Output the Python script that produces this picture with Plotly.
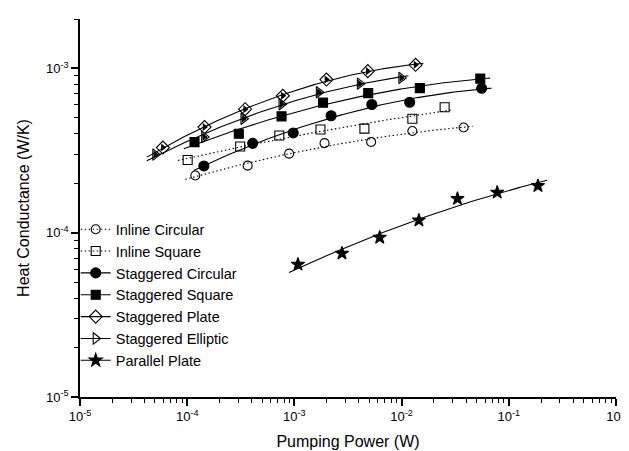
import numpy as np
import plotly.graph_objects as go

# ---- data ----
series_names = ["Inline Circular", "Inline Square", "Staggered Circular",
                "Staggered Square", "Staggered Plate", "Staggered Elliptic",
                "Parallel Plate"]

inline_circ_x = [1.19e-4, 3.66e-4, 8.93e-4, 1.91e-3, 5.20e-3, 1.26e-2, 3.79e-2]
inline_circ_y = [2.23e-4, 2.56e-4, 3.03e-4, 3.51e-4, 3.57e-4, 4.16e-4, 4.37e-4]

inline_sq_x = [1.01e-4, 3.12e-4, 7.23e-4, 1.75e-3, 4.50e-3, 1.26e-2, 2.52e-2]
inline_sq_y = [2.77e-4, 3.35e-4, 3.91e-4, 4.25e-4, 4.30e-4, 4.94e-4, 5.80e-4]

stag_circ_x = [1.43e-4, 4.08e-4, 9.75e-4, 2.20e-3, 5.27e-3, 1.19e-2, 5.58e-2]
stag_circ_y = [2.55e-4, 3.50e-4, 4.05e-4, 5.15e-4, 6.03e-4, 6.23e-4, 7.57e-4]

stag_sq_x = [1.17e-4, 3.03e-4, 7.59e-4, 1.85e-3, 4.88e-3, 1.48e-2, 5.42e-2]
stag_sq_y = [3.56e-4, 4.00e-4, 5.11e-4, 6.19e-4, 7.08e-4, 7.59e-4, 8.67e-4]

stag_plate_x = [5.93e-5, 1.45e-4, 3.47e-4, 7.80e-4, 1.99e-3, 4.84e-3, 1.35e-2]
stag_plate_y = [3.30e-4, 4.40e-4, 5.65e-4, 6.82e-4, 8.56e-4, 9.63e-4, 1.053e-3]

stag_ell_x = [5.04e-5, 1.44e-4, 3.35e-4, 7.59e-4, 1.69e-3, 4.08e-3, 9.95e-3]
stag_ell_y = [2.99e-4, 3.83e-4, 4.94e-4, 6.06e-4, 7.16e-4, 8.08e-4, 8.76e-4]

par_plate_x = [1.08e-3, 2.78e-3, 6.25e-3, 1.45e-2, 3.32e-2, 7.80e-2, 0.187]
par_plate_y = [6.41e-5, 7.49e-5, 9.35e-5, 1.19e-4, 1.61e-4, 1.76e-4, 1.93e-4]

# extent of each fitted curve (pumping power, W)
fit_start = [9.6e-5, 8.2e-5, 1.15e-4, 9.3e-5, 4.2e-5, 4.2e-5, 8.9e-4]
fit_end = [4.6e-2, 2.9e-2, 6.9e-2, 6.7e-2, 1.6e-2, 1.16e-2, 0.228]

x_tick_vals = [1e-5, 1e-4, 1e-3, 1e-2, 1e-1, 1e0]
x_tick_text = ["10<sup>-5</sup>", "10<sup>-4</sup>", "10<sup>-3</sup>",
               "10<sup>-2</sup>", "10<sup>-1</sup>", "10<sup>0</sup>"]
y_tick_vals = [1e-5, 1e-4, 1e-3]
y_tick_text = ["10<sup>-5</sup>", "10<sup>-4</sup>", "10<sup>-3</sup>"]

xs = [inline_circ_x, inline_sq_x, stag_circ_x, stag_sq_x, stag_plate_x, stag_ell_x, par_plate_x]
ys = [inline_circ_y, inline_sq_y, stag_circ_y, stag_sq_y, stag_plate_y, stag_ell_y, par_plate_y]

# ---- styles ----
symbols = ["circle-open", "square-open", "circle", "square", "diamond-open",
           "triangle-right-open", "star"]
msizes = [9, 9, 10, 9, 10, 10, 10]
dotted = "1.5px,2.5px"
dashes = [dotted, dotted, "solid", "solid", "solid", "solid", "solid"]
half_fill = [None, None, None, None, "triangle-right", "triangle-right", None]

fig = go.Figure()
for i, name in enumerate(series_names):
    lx = np.log10(xs[i])
    ly = np.log10(ys[i])
    coef = np.polyfit(lx, ly, 2)
    fx = np.linspace(np.log10(fit_start[i]), np.log10(fit_end[i]), 120)
    fy = np.polyval(coef, fx)
    fig.add_trace(go.Scatter(x=10 ** fx, y=10 ** fy, mode="lines",
                             line=dict(color="black", width=1.1, dash=dashes[i]),
                             showlegend=False, hoverinfo="skip"))
    fig.add_trace(go.Scatter(x=xs[i], y=ys[i], mode="markers",
                             marker=dict(symbol=symbols[i], size=msizes[i], color="black",
                                         line=dict(color="black", width=1.1)),
                             showlegend=False))
    if half_fill[i]:
        fig.add_trace(go.Scatter(x=xs[i], y=ys[i], mode="markers",
                                 marker=dict(symbol=half_fill[i], size=7, color="black"),
                                 showlegend=False, hoverinfo="skip"))
    # legend entry (line + marker)
    fig.add_trace(go.Scatter(x=[None], y=[None], mode="lines+markers", name=name,
                             line=dict(color="black", width=1.1, dash=dashes[i]),
                             marker=dict(symbol=symbols[i], size=msizes[i], color="black",
                                         line=dict(color="black", width=1.1))))

font_family = "Arial, Liberation Sans, sans-serif"
fig.update_layout(
    width=629, height=451,
    margin=dict(l=72, r=17, t=11, b=59),
    paper_bgcolor="white", plot_bgcolor="white",
    font=dict(family=font_family, color="black", size=16),
    legend=dict(x=-0.008, y=0.486, xanchor="left", yanchor="top",
                bgcolor="rgba(0,0,0,0)", font=dict(size=14.5), tracegroupgap=0,
                itemwidth=30),
    xaxis=dict(type="log", range=[-5, 0], tickvals=x_tick_vals, ticktext=x_tick_text,
               showgrid=False, zeroline=False, showline=True, linecolor="black",
               linewidth=1.5, ticks="outside", ticklen=7, tickwidth=1.5, tickcolor="black",
               tickfont=dict(size=13), mirror=False,
               minor=dict(ticks="outside", ticklen=4, tickwidth=1.2, tickcolor="black",
                          dtick="D1", showgrid=False),
               title=dict(text="Pumping Power (W)", font=dict(size=16), standoff=12)),
    yaxis=dict(type="log", range=[-5, np.log10(2e-3)], tickvals=y_tick_vals,
               ticktext=y_tick_text,
               showgrid=False, zeroline=False, showline=True, linecolor="black",
               linewidth=1.5, ticks="outside", ticklen=7, tickwidth=1.5, tickcolor="black",
               tickfont=dict(size=13),
               minor=dict(ticks="outside", ticklen=4, tickwidth=1.2, tickcolor="black",
                          dtick="D1", showgrid=False),
               title=dict(text="Heat Conductance (W/K)", font=dict(size=16), standoff=12)),
)

fig.write_html("out.html")
